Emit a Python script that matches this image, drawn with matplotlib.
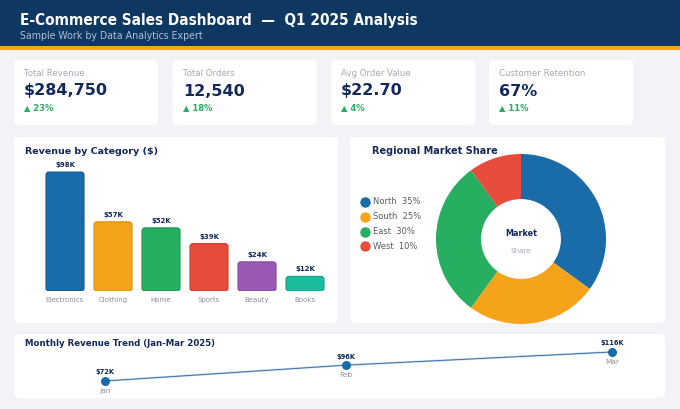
import matplotlib
matplotlib.use("Agg")
import matplotlib.pyplot as plt
from matplotlib.patches import FancyBboxPatch, Rectangle
import pandas as pd

W, H = 680, 409

# KPI cards
kpi_labels = ["Total Revenue", "Total Orders", "Avg Order Value", "Customer Retention"]
kpi_values = ["$284,750", "12,540", "$22.70", "67%"]
kpi_changes = ["▲ 23%", "▲ 18%", "▲ 4%", "▲ 11%"]

# Revenue by category ($K)
categories = ["Electronics", "Clothing", "Home", "Sports", "Beauty", "Books"]
revenue = [98, 57, 52, 39, 24, 12]
bar_colors = ["#1a6ca8", "#f5a31a", "#27ae60", "#e74c3c", "#9b59b6", "#1abc9c"]
bar_edges = ["#155a8c", "#e0920f", "#1f9a52", "#cf3d2e", "#8a4aa3", "#16a689"]

# Regional market share (%)
regions = ["North", "South", "East", "West"]
shares = [35, 25, 30, 10]
region_colors = ["#1a6ca8", "#f5a31a", "#27ae60", "#e74c3c"]

# Monthly revenue trend ($K)
months = ["Jan", "Feb", "Mar"]
month_dates = pd.to_datetime(["2025-01-31", "2025-02-28", "2025-03-31"])
monthly_revenue = [72, 96, 116]

NAVY = "#13295a"
GRAY = "#a3aab6"
GREEN = "#27ae60"


def px_axes(fig, x0, y0, x1, y1, **kw):
    return fig.add_axes([x0 / W, 1 - y1 / H, (x1 - x0) / W, (y1 - y0) / H], **kw)


def canvas(fig, z):
    c = fig.add_axes([0, 0, 1, 1])
    c.set_xlim(0, W)
    c.set_ylim(H, 0)
    c.axis("off")
    c.set_zorder(z)
    return c


fig = plt.figure(figsize=(W / 100, H / 100), dpi=100)
fig.patch.set_facecolor("#f2f3f7")

# background canvas in pixel units, plus one on top for overlapping titles
bg = canvas(fig, 0)

bg.add_patch(Rectangle((0, 0), W, 46, color="#0e3862", lw=0))
bg.add_patch(Rectangle((0, 46), W, 4, color="#f5a31a", lw=0))
bg.text(20, 20, "E-Commerce Sales Dashboard  —  Q1 2025 Analysis", color="white",
        fontsize=11, fontweight="bold", fontstretch="condensed", va="center")
bg.text(20, 36, "Sample Work by Data Analytics Expert", color="#aebfd6",
        fontsize=7.6, fontstretch="condensed", va="center")


def card(x0, y0, x1, y1):
    bg.add_patch(FancyBboxPatch((x0, y0), x1 - x0, y1 - y0,
                                boxstyle="round,pad=0,rounding_size=5",
                                fc="white", ec="none"))


card_x = [14, 173, 331, 489]
for i, x in enumerate(card_x):
    card(x, 60, x + 144, 125)
    bg.text(x + 10, 73, kpi_labels[i], color=GRAY, fontsize=6.2, va="center")
    bg.text(x + 10, 91, kpi_values[i], color=NAVY, fontsize=11.5, fontweight="bold", va="center")
    bg.text(x + 10, 108, kpi_changes[i], color=GREEN, fontsize=6, fontweight="bold", va="center")

card(14, 137, 338, 323)
card(350, 137, 665, 323)
card(14, 334, 665, 398)

# bar chart
bg.text(25, 151, "Revenue by Category ($)", color=NAVY, fontsize=6.8, fontweight="bold", va="center")
ax = px_axes(fig, 41, 160, 329, 291)
ax.set_facecolor("none")
xs = range(len(categories))
ax.set_ylim(0, 108)
ax.set_xlim(-0.5, len(categories) - 0.5)
bars = ax.bar(xs, revenue, width=0.79, color=bar_colors)
# swap the plain bars for rounded ones of the same size
bbox = ax.get_position()
px_x = bbox.width * W / 6.0
px_y = bbox.height * H / 108.0
aspect = px_x / px_y
for b, ec in zip(bars, bar_edges):
    b.set_visible(False)
    ax.add_patch(FancyBboxPatch((b.get_x(), b.get_y()), b.get_width(), b.get_height(),
                                boxstyle="round,pad=0,rounding_size=0.06",
                                mutation_aspect=aspect, fc=b.get_facecolor(),
                                ec=ec, lw=0.9))
for b, v in zip(bars, revenue):
    ax.annotate(f"${v}K", (b.get_x() + b.get_width() / 2, v), xytext=(0, 3),
                textcoords="offset points", ha="center", va="bottom",
                fontsize=5, fontweight="bold", color=NAVY)
ax.set_xticks(list(xs))
ax.set_xticklabels(categories, fontsize=5, color="#8a8f99")
ax.tick_params(axis="x", length=0, pad=4)
ax.set_yticks([])
for s in ax.spines.values():
    s.set_visible(False)

# donut chart
pax = px_axes(fig, 436, 154, 606, 324)
pax.set_zorder(1)
pax.pie(shares, colors=region_colors, startangle=90, counterclock=False,
        radius=1, wedgeprops=dict(width=0.53, edgecolor="none"))
pax.set_xlim(-1, 1)
pax.set_ylim(-1, 1)
pax.set_aspect("equal")
pax.text(0, 0.07, "Market", ha="center", va="center", fontsize=5.8, fontweight="bold", color=NAVY)
pax.text(0, -0.14, "Share", ha="center", va="center", fontsize=5.2, color=GRAY)

top = canvas(fig, 3)
top.text(372, 151, "Regional Market Share", color=NAVY, fontsize=7, fontweight="bold", va="center")

for i, (r, s) in enumerate(zip(regions, shares)):
    y = 202 + i * 14.8
    bg.plot(365, y, "o", ms=6.5, color=region_colors[i])
    bg.text(373, y, f"{r}  {s}%", color="#555c66", fontsize=6, va="center")

# line chart
bg.text(25, 343, "Monthly Revenue Trend (Jan-Mar 2025)", color=NAVY, fontsize=6.2,
        fontweight="bold", va="center")
lax = px_axes(fig, 40, 345, 650, 395)
lax.set_facecolor("none")
lax.plot(month_dates, monthly_revenue, color="#c4d3e4", lw=1.5, zorder=1)
lax.plot(month_dates, monthly_revenue, color="#2d6aa6", lw=0.6, zorder=2)
lax.plot(month_dates, monthly_revenue, "o", ms=5.5, color="#1a6ca8", zorder=3)
for d, v, m in zip(month_dates, monthly_revenue, months):
    lax.annotate(f"${v}K", (d, v), xytext=(0, 4), textcoords="offset points",
                 ha="center", va="bottom", fontsize=4.8, fontweight="bold", color=NAVY)
    lax.annotate(m, (d, v), xytext=(0, -5), textcoords="offset points",
                 ha="center", va="top", fontsize=5.3, color="#8a8f99")
lax.set_xlim(month_dates[0] - pd.Timedelta(days=7.56), month_dates[-1] + pd.Timedelta(days=4.42))
lax.set_ylim(50.76, 126.6)
lax.axis("off")

fig.savefig("out.png", dpi=100, facecolor=fig.get_facecolor())
